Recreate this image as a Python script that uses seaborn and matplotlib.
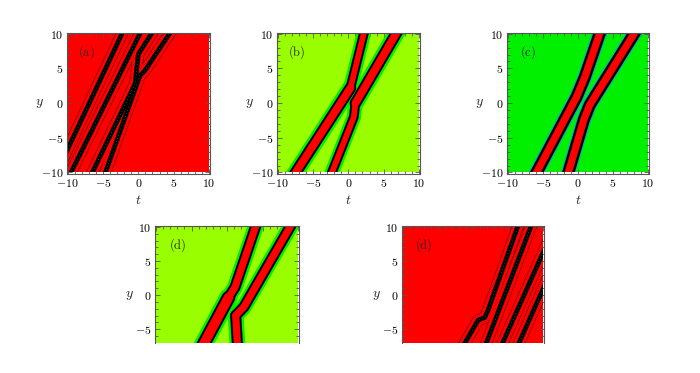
import numpy as np
import pandas as pd
import matplotlib
matplotlib.use("Agg")
import matplotlib.pyplot as plt
import matplotlib.transforms as mtransforms
from matplotlib.patches import Rectangle
from matplotlib.ticker import MultipleLocator, FuncFormatter
import seaborn as sns

sns.set_theme(style="white")
plt.rcParams["font.family"] = ["DejaVu Serif"]
plt.rcParams["mathtext.fontset"] = "cm"

# ---------------- data ----------------
T_RANGE = [-10.0, 10.0]
Y_RANGE = [-10.0, 10.0]
TICKS = [-10, -5, 0, 5, 10]
PANEL_LABELS = ["(a)", "(b)", "(c)", "(d)", "(d)"]

# soliton ridge paths (t, y)
# panel (a): four dark ridges on red background
A_T = [[-12.0, -1.5], [-10.5, 0.5], [-7.5, -0.47, 0.0, 1.86, 2.5], [-5.5, 0.22, 0.92, 4.41, 5.5]]
A_Y = [[-10.92, 11.76], [-11.97, 10.59], [-12.09, 2.77, 7.06, 10.0, 11.0], [-12.4, 3.96, 4.67, 10.0, 11.67]]
A_KIND = ["thin", "thin", "thin", "thin"]

# panel (b): wide / narrow bright solitons
B_T = [[-10.0, 0.3], [0.3, 2.18, 3.0], [-4.0, 0.78, 1.0], [1.0, 1.38, 11.0]]
B_Y = [[-14.0, 2.2], [2.2, 10.0, 13.9], [-14.3, -2.0, 0.0], [0.0, 0.63, 17.4]]
B_KIND = ["wide", "narrow", "narrow", "wide"]

# panel (c)
C_T = [[-7.5, -0.17, 1.0, 3.10, 4.0], [-2.5, 0.86, 1.70, 8.02, 10.5]]
C_Y = [[-13.1, 0.92, 3.76, 10.0, 12.7], [-13.97, -2.38, -0.26, 10.0, 14.0]]
C_KIND = ["mid", "mid"]

# panel (d) lower left
D_T = [[-5.0, 0.18], [0.18, 1.11, 3.98, 4.5], [1.5, 1.43, 1.2], [1.2, 2.36, 8.84, 10.5]]
D_Y = [[-10.5, -0.38], [-0.38, 1.17, 10.0, 11.6], [-10.5, -6.98, -3.0], [-3.0, -1.74, 10.0, 13.0]]
D_KIND = ["xwide", "mid", "mid", "mid"]

# panel (d) lower right
E_T = [[-2.5, -1.11, 0.76, 1.70, 2.16, 6.38, 7.0], [0.8, 8.26, 9.0], [3.0, 11.0], [5.3, 11.0]]
E_Y = [[-9.43, -6.98, -3.68, -3.29, -2.23, 10.0, 11.8], [-10.05, 10.0, 12.0], [-9.9, 8.49], [-10.0, 3.17]]
E_KIND = ["thin", "thin", "thin", "thin"]

# ---------------- styles ----------------
LIME = "#99FF00"
GREEN = "#00EE00"
RED = "#FF0000"
BLACK = "#000000"

# layers (color, linewidth pt, linestyle) per kind, drawn outermost first
DARK_LAYERS = {"thin": [("#5A0000", 8.4, "-"), (RED, 7.6, "-"), (BLACK, 3.4, "-"),
                        ("#127A00", 0.6, (0, (1.0, 3.0)))]}
BRIGHT_LAYERS_B = {
    "wide": [(GREEN, 12.0, "-"), (BLACK, 8.4, "-"), (RED, 5.6, "-")],
    "xwide": [(GREEN, 13.4, "-"), (BLACK, 9.8, "-"), (RED, 7.0, "-")],
    "narrow": [(GREEN, 10.4, "-"), (BLACK, 7.0, "-"), (RED, 4.2, "-")],
    "mid": [(GREEN, 11.4, "-"), (BLACK, 8.0, "-"), (RED, 5.2, "-")],
}
BRIGHT_LAYERS_C = {
    "mid": [("#00BBAA", 10.6, "-"), (BLACK, 8.8, "-"), (RED, 5.2, "-")],
}

PANELS = [
    dict(T=A_T, Y=A_Y, K=A_KIND, bg=RED, layers=DARK_LAYERS,
         rect=[66.7, 32.7, 210.0, 173.5], ylim_low=-10.15, xlab=True),
    dict(T=B_T, Y=B_Y, K=B_KIND, bg=LIME, layers=BRIGHT_LAYERS_B,
         rect=[276.7, 32.7, 420.0, 173.5], ylim_low=-10.15, xlab=True),
    dict(T=C_T, Y=C_Y, K=C_KIND, bg="#00F000", layers=BRIGHT_LAYERS_C,
         rect=[506.7, 32.7, 649.0, 173.5], ylim_low=-10.15, xlab=True),
    dict(T=D_T, Y=D_Y, K=D_KIND, bg=LIME, layers=BRIGHT_LAYERS_B,
         rect=[155.0, 226.0, 299.3, 342.7], ylim_low=-6.99, xlab=False),
    dict(T=E_T, Y=E_Y, K=E_KIND, bg=RED, layers=DARK_LAYERS,
         rect=[401.7, 226.0, 544.0, 342.7], ylim_low=-6.99, xlab=False),
]

W, H = 700, 373
fig = plt.figure(figsize=(W / 100, H / 100), dpi=100)
fig.patch.set_facecolor("white")

PAD = 0.15
FRAME = "#555555"


def fmt(v, p):
    return rf"${v:g}$"


for i, P in enumerate(PANELS):
    x0, y0, x1, y1 = P["rect"]
    ax = fig.add_axes([x0 / W, (H - y1) / H, (x1 - x0) / W, (y1 - y0) / H])
    ax.set_facecolor("white")

    y_lo = max(Y_RANGE[0], P["ylim_low"])
    bg = Rectangle((T_RANGE[0], y_lo), T_RANGE[1] - T_RANGE[0], Y_RANGE[1] - y_lo,
                   facecolor=P["bg"], edgecolor="none", zorder=0.5)
    ax.add_patch(bg)

    nlayers = len(next(iter(P["layers"].values())))
    for li in range(nlayers):
        for t, y, k in zip(P["T"], P["Y"], P["K"]):
            color, lw, ls = P["layers"][k][li]
            df = pd.DataFrame({"t": t, "y": y})
            sns.lineplot(data=df, x="t", y="y", sort=False, estimator=None,
                         color=color, lw=lw, ls=ls, ax=ax, legend=False)
            ln = ax.lines[-1]
            ln.set_clip_path(bg)
            ln.set_solid_capstyle("round")
            ln.set_solid_joinstyle("round")
            ln.set_dash_capstyle("butt")
            ln.set_zorder(1 + li)

    ax.set_xlabel("")
    ax.set_ylabel("")
    ax.set_xticks(TICKS)
    ax.set_yticks(TICKS)
    ax.set_xlim(T_RANGE[0] - PAD, T_RANGE[1] + PAD)
    ax.set_ylim(P["ylim_low"], Y_RANGE[1] + PAD)
    ax.xaxis.set_minor_locator(MultipleLocator(1))
    ax.yaxis.set_minor_locator(MultipleLocator(1))
    ax.xaxis.set_major_formatter(FuncFormatter(fmt))
    ax.yaxis.set_major_formatter(FuncFormatter(fmt))
    ax.tick_params(which="both", direction="in", top=True, right=True, bottom=True, left=True,
                   color=FRAME, width=0.6, labelsize=8.5, labelcolor="black")
    ax.tick_params(which="major", length=3.5, pad=2.5)
    ax.tick_params(which="minor", length=2.0)
    for s in ax.spines.values():
        s.set_color(FRAME)
        s.set_linewidth(0.8)
        s.set_zorder(10)

    if not P["xlab"]:
        ax.spines["bottom"].set_visible(False)
        ax.tick_params(which="both", bottom=False, labelbottom=False)
    else:
        ax.text(0.5, -0.19, r"$t$", transform=ax.transAxes, ha="center", va="center", fontsize=10)

    trans = mtransforms.blended_transform_factory(ax.transAxes, ax.transData)
    ax.text(-0.19 if P["xlab"] else -0.175, 0.0, r"$y$", transform=trans,
            ha="center", va="center", fontsize=10)
    lab = PANEL_LABELS[i]
    ax.text(0.08 if i < 2 else 0.095, 7.3, r"$\mathrm{" + lab + "}$", transform=trans,
            ha="left", va="center", fontsize=9, zorder=20)

fig.savefig("out.png", dpi=100, facecolor="white")
